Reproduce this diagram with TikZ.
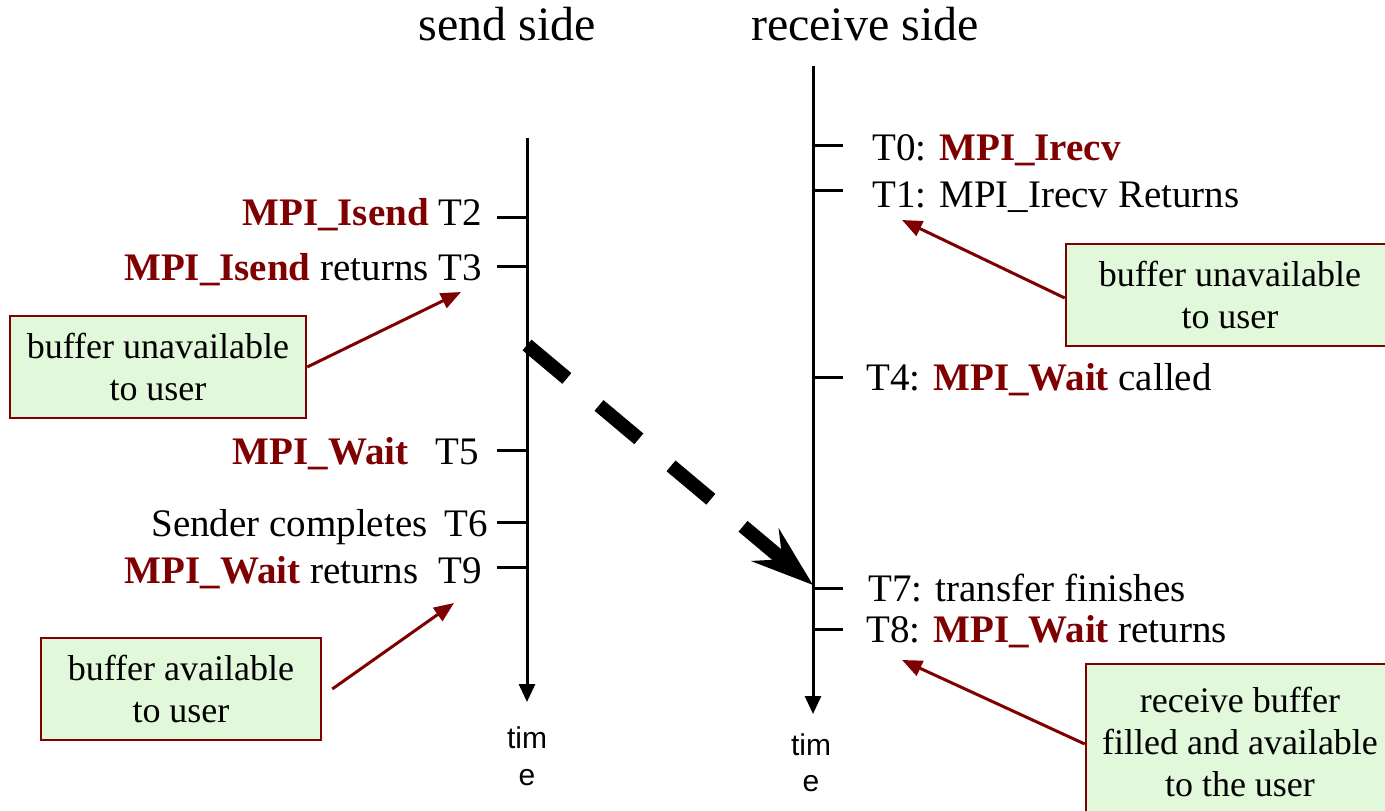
\documentclass[tikz,border=0pt]{standalone}
\usepackage{fontspec}
\setmainfont{Liberation Serif}
\newfontfamily\arialfont{Liberation Sans}
\usetikzlibrary{arrows.meta}

\definecolor{dred}{HTML}{7F0000}
\definecolor{note}{HTML}{E2F8DA}

\begin{document}
\begin{tikzpicture}[x=1pt,y=-1pt,
  axis/.style={line width=3pt,-{Triangle[length=18pt,width=16pt]}},
  tick/.style={line width=3pt},
  lbl/.style={inner sep=0pt,font=\fontsize{39}{44}\selectfont},
  head/.style={inner sep=0pt,font=\fontsize{48}{52}\selectfont},
  timelbl/.style={inner sep=0pt,font=\arialfont\fontsize{30}{36}\selectfont},
  notebox/.style={draw=dred,fill=note,line width=2.5pt,align=center,
    inner sep=0pt,font=\fontsize{36}{42}\selectfont},
  pointer/.style={dred,line width=3pt,-{Triangle[length=20pt,width=16pt]}},
  transfer/.style={line width=14pt,dash pattern=on 52pt off 42pt,
    -{Stealth[length=62pt,width=42pt,inset=22pt]}}]
\useasboundingbox (0,0) rectangle (1385,811);

% column headings
\node[head,anchor=base] (hsend) at (507,40) {send side};
\node[head,anchor=base] (hrecv) at (865,40) {receive side};

% time axes
\coordinate (s0) at (527,138);
\coordinate (s1) at (527,702);
\coordinate (r0) at (813,66);
\coordinate (r1) at (813,714);
\draw[axis] (s0) -- (s1);
\draw[axis] (r0) -- (r1);

\node[timelbl,anchor=base] (st1) at (527,748) {tim};
\node[timelbl,anchor=base] (st2) at (527,785) {e};
\node[timelbl,anchor=base] (rt1) at (811,755) {tim};
\node[timelbl,anchor=base] (rt2) at (811,791) {e};

% send-side events
\foreach \n/\y in {2/217,3/266,5/450,6/522,9/567}{
  \coordinate (sa\n) at (497,\y);
  \coordinate (sb\n) at (527,\y);
  \draw[tick] (sa\n) -- (sb\n);
}
\node[lbl,anchor=base east] (T2) at (482,225)
  {{\color{dred}\bfseries MPI\_Isend} T2};
\node[lbl,anchor=base east] (T3) at (482,280)
  {{\color{dred}\bfseries MPI\_Isend} returns T3};
\node[lbl,anchor=base east] (T5) at (479,464)
  {{\color{dred}\bfseries MPI\_Wait}\hspace{27pt}T5};
\node[lbl,anchor=base east] (T6) at (488,536)
  {Sender completes\hspace{17pt}T6};
\node[lbl,anchor=base east] (T9) at (482,583)
  {{\color{dred}\bfseries MPI\_Wait} returns\hspace{20pt}T9};

% receive-side events
\foreach \n/\y in {0/145,1/190,4/377,7/588,8/629}{
  \coordinate (ra\n) at (813,\y);
  \coordinate (rb\n) at (843,\y);
  \draw[tick] (ra\n) -- (rb\n);
}
\node[lbl,anchor=base west] (T0) at (872,160)
  {T0: {\color{dred}\bfseries MPI\_Irecv}};
\node[lbl,anchor=base west] (T1) at (872,207)
  {T1: MPI\_Irecv Returns};
\node[lbl,anchor=base west] (T4) at (866,390)
  {T4: {\color{dred}\bfseries MPI\_Wait} called};
\node[lbl,anchor=base west] (T7) at (868,601)
  {T7: transfer finishes};
\node[lbl,anchor=base west] (T8) at (866,642)
  {T8: {\color{dred}\bfseries MPI\_Wait} returns};

% data transfer
\coordinate (xfer0) at (527,345);
\coordinate (xfer1) at (813,585);
\draw[transfer] (xfer0) -- (xfer1);

% annotation boxes
\node[notebox,minimum width=296pt,minimum height=102pt] (n1) at (158,367)
  {buffer unavailable\\to user};
\node[notebox,minimum width=280pt,minimum height=102pt] (n2) at (181,689)
  {buffer available\\to user};
\node[notebox,minimum width=328pt,minimum height=102pt] (n3) at (1230,295)
  {buffer unavailable\\to user};
\node[notebox,minimum width=308pt,minimum height=156pt,
  text depth=0pt] (n4) at (1240,742)
  {receive buffer\\filled and available\\to the user};

\coordinate (p1) at (461,292);
\coordinate (p2) at (454,603);
\coordinate (p3) at (902,220);
\coordinate (p4) at (902,660);
\draw[pointer] (n1.east) -- (p1);
\draw[pointer] ([xshift=10pt]n2.east) -- (p2);
\draw[pointer] ([yshift=-3pt]n3.west) -- (p3);
\draw[pointer] ([yshift=-2pt]n4.west) -- (p4);
\end{tikzpicture}
\end{document}
